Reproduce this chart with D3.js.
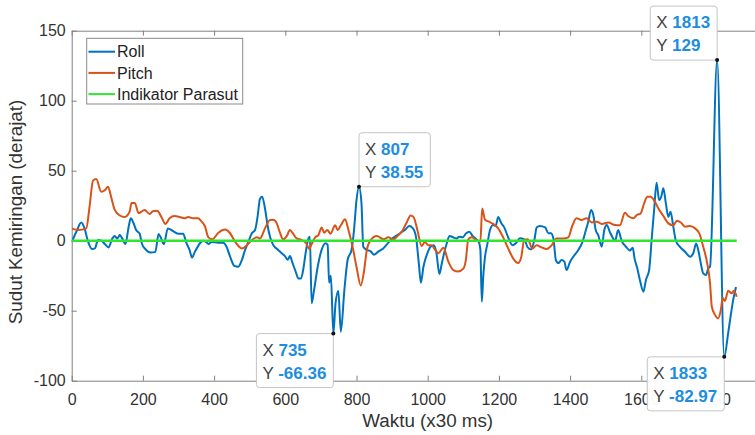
<!DOCTYPE html>
<html>
<head>
<meta charset="utf-8">
<script src="https://cdn.jsdelivr.net/npm/d3@7"></script>
<style>
  html, body { margin: 0; padding: 0; background: #fff; }
  svg { display: block; font-family: "Liberation Sans", Arial, Helvetica, sans-serif; }
</style>
</head>
<body>
<svg id="chart" width="755" height="435"></svg>
<script>
// Sample index (x30 ms) and tilt angle in degrees for each series
const rollX = [0,13,27,36,46,57,65,74,83,93,104,113,121,128,135,141,151,160,166,173,181,191,197,207,222,235,244,250,259,270,284,299,313,322,331,338,346,360,369,378,384,393,412,426,435,445,457,468,478,487,496,506,515,522,529,535,543,550,557,566,580,590,599,607,613,620,629,637,644,651,657,665,669,674,681,691,702,713,719,723,728,735,741,749,756,766,775,786,793,800,807,814,819,829,840,849,862,875,886,898,911,924,936,948,958,967,975,981,988,999,1008,1017,1024,1033,1039,1046,1053,1061,1072,1081,1089,1098,1108,1117,1126,1137,1145,1148,1152,1156,1161,1168,1175,1184,1191,1198,1206,1215,1226,1238,1249,1259,1271,1281,1290,1300,1306,1315,1330,1339,1346,1353,1360,1367,1376,1384,1390,1400,1409,1423,1434,1443,1451,1459,1465,1472,1479,1489,1496,1503,1512,1520,1526,1535,1545,1557,1568,1576,1581,1588,1596,1606,1613,1622,1629,1636,1643,1650,1656,1662,1669,1676,1682,1690,1697,1708,1723,1737,1746,1754,1761,1767,1774,1782,1788,1793,1813,1833,1844,1850,1858,1866];
const rollY = [-1,6.4,13,8.8,-0.7,-6,-5.5,0.5,0,-2.4,-4.8,1,3.3,1.5,4,2,-2.4,10,16,13,7.6,5,-2,-6,-8.5,-8,4.8,2.4,-2.4,8.8,7,5,5,-1.4,-6.6,-12,-8,-2,0,-1,-2.4,-1,-1.4,-1.4,-4.3,-11.4,-18,-18.6,-13.8,-6.6,-1,5.3,7.6,17,30,31.4,23,11.2,2.9,-3,-6.6,-9,-11,-13.6,-11,-15.7,-22,-27,-27,-19.7,-9,1.7,2.8,-44.7,-35,-18.6,-6.6,-1.9,-3,-30,-25,-66.36,-45,-36,-65,-35,-13.8,-6.6,7.6,29,38.55,26.7,-4.3,-6.6,-7.6,-10,-7.6,-5.5,-2.4,1,3.4,5.7,7.6,10.5,9,2.9,-16,-30,-18.6,-9,-4.3,-3.3,-7.9,-23.8,-17,-9,-2.4,3.4,2.4,1.6,2.9,2.4,5.3,6.4,3.4,1,-2,-6.6,-43.6,-25.7,-11.4,-1.9,7.6,11.2,10.5,17,12.9,9.5,2.4,-3.3,-1.4,1.7,1,-4.8,-6.2,1,9.5,10.5,9.5,5.3,5.3,1.7,-13.8,-16,-13.8,-15,-21,-15,-11.4,-6.6,-1.4,6.4,13.6,22,18.6,7.6,4,-4.3,7.6,11.2,6,2,-0.3,7.6,-0.3,-4.3,-7,-5,-12.6,-19,-28,-36.4,-28,-21,0.5,22,41.4,29,31.4,37.4,26.7,17,20.7,10,0,-4.3,-7.9,-11.4,-9,-2,-7.9,-16,-23.3,-24.5,-19.7,-18.6,129,-82.97,-66,-55.5,-42.4,-33];

const pitchX = [0,18,41,50,60,69,83,93,102,111,121,135,149,163,168,177,188,205,219,228,240,252,263,275,289,303,317,327,341,355,364,374,384,395,412,431,444,459,478,492,506,520,529,543,557,566,576,585,594,604,613,620,632,646,660,667,674,684,693,702,709,718,727,740,747,756,768,777,789,800,812,821,829,840,857,876,889,904,915,927,941,952,960,971,983,992,1002,1011,1021,1030,1044,1058,1072,1086,1100,1107,1114,1123,1137,1148,1153,1161,1172,1184,1198,1212,1226,1240,1254,1263,1271,1281,1294,1306,1320,1334,1348,1362,1381,1395,1406,1418,1432,1446,1461,1475,1489,1507,1526,1540,1554,1563,1578,1587,1598,1608,1617,1626,1638,1648,1662,1676,1690,1700,1711,1723,1737,1751,1763,1774,1785,1793,1798,1807,1816,1823,1829,1835,1844,1854,1860,1868];
const pitchY = [8.8,7.6,8.8,24,43,44,35,36,38.6,31,22,18,17,21,27,27,19.6,22,19,21,21.4,17,12,16,17.6,17,16,17,16,16,14,10.5,2.4,1,5.7,8,5.7,-0.7,-5.5,-3.3,0.5,2.4,1.6,8.8,14.8,15,12.4,5.7,1,3.3,7.6,5.7,1.6,0.5,-2.4,-6,-2.4,2.4,4,9.5,5.7,7.6,5,11,7.6,11,15.3,8,-4.3,-18.6,-32,-22,-6.6,0.5,3.4,1,2.4,1,3.3,6.4,13,18,17,7.6,-3.8,-1,-3.3,-3.3,-6.6,-9,-5,-15,-21,-22,-20,-14,1,2.4,0.5,-0.7,23,15,13.6,12,8.8,2.4,-5.5,-12.6,-16,-11.4,0.5,1,-5.5,-3.3,-4.8,-6,-3.3,1.6,1.6,2.4,10.5,16,14.8,16,13,13.6,12,13,11.2,11,20,17.6,16,18.3,19.5,26.7,31.4,31.4,28,23,17.6,12.4,11,14.3,13,10,10.5,8.8,5.3,-4.3,-16,-30,-47,-53,-55.5,-50,-41,-43,-35.7,-37.6,-35.7,-40];

const parasutX = [0, 1868];
const parasutY = [0, 0];

const seriesNames = ["Roll", "Pitch", "Indikator Parasut"];
const seriesColors = ["#0072BD", "#D95319", "#2ee62e"];

const xTicks = [0, 200, 400, 600, 800, 1000, 1200, 1400, 1600, 1800];
const yTicks = [-100, -50, 0, 50, 100, 150];

// Data tips placed on the Roll series
const tipX = [735, 807, 1813, 1833];
const tipCorner = ["top-right", "bottom-left", "bottom-right", "top-right"];

(function draw() {
  const svg = d3.select("#chart");
  svg.append("rect").attr("width", 755).attr("height", 435).attr("fill", "#fff");

  const pL = 71.7, pR = 783.7, pT = 30.7, pB = 380.7;
  const x = d3.scaleLinear().domain([0, 2000]).range([pL, pR]);
  const y = d3.scaleLinear().domain([-100, 150]).range([pB, pT]);

  const axisColor = "#808080";
  const textColor = "#333";
  const plain = d => String(d);

  svg.append("clipPath").attr("id", "plotclip")
    .append("rect").attr("x", pL).attr("y", pT)
    .attr("width", pR - pL).attr("height", pB - pT);

  // Axes with inward ticks and a top edge
  const gx = svg.append("g").attr("transform", `translate(0,${pB})`)
    .call(d3.axisBottom(x).tickValues(xTicks).tickFormat(plain)
      .tickSizeInner(-5).tickSizeOuter(0).tickPadding(13));
  const gxTop = svg.append("g").attr("transform", `translate(0,${pT})`)
    .call(d3.axisTop(x).tickValues(xTicks).tickSizeInner(-5).tickSizeOuter(0).tickFormat(""));
  const gy = svg.append("g").attr("transform", `translate(${pL},0)`)
    .call(d3.axisLeft(y).tickValues(yTicks).tickFormat(plain)
      .tickSizeInner(-5).tickSizeOuter(0).tickPadding(6));

  [gx, gxTop, gy].forEach(g => {
    g.select(".domain").attr("stroke", axisColor).attr("stroke-width", 1);
    g.selectAll(".tick line").attr("stroke", axisColor);
    g.selectAll(".tick text").attr("fill", textColor)
      .style("font-size", "16px").style("font-family", '"Liberation Sans", Arial, sans-serif');
  });

  // Axis titles
  svg.append("text")
    .attr("x", (pL + pR) / 2).attr("y", 427)
    .attr("text-anchor", "middle").attr("fill", textColor)
    .style("font-size", "18.8px")
    .text("Waktu (x30 ms)");
  svg.append("text")
    .attr("transform", `translate(22,212) rotate(-90)`)
    .attr("text-anchor", "middle").attr("fill", textColor)
    .style("font-size", "18.8px")
    .text("Sudut Kemiringan (derajat)");

  // Lines
  const plot = svg.append("g").attr("clip-path", "url(#plotclip)");
  const seriesData = [
    rollX.map((v, i) => [v, rollY[i]]),
    pitchX.map((v, i) => [v, pitchY[i]]),
    parasutX.map((v, i) => [v, parasutY[i]])
  ];
  const line = d3.line().x(d => x(d[0])).y(d => y(d[1])).curve(d3.curveMonotoneX);
  seriesData.forEach((data, i) => {
    plot.append("path")
      .datum(data)
      .attr("fill", "none")
      .attr("stroke", seriesColors[i])
      .attr("stroke-width", i === 2 ? 2.4 : 2)
      .attr("stroke-linejoin", "round")
      .attr("d", line);
  });

  // Legend
  const legend = svg.append("g");
  legend.append("rect")
    .attr("x", 86.7).attr("y", 38.3).attr("width", 156).attr("height", 65.7)
    .attr("fill", "#fff").attr("stroke", "#8a8a8a").attr("stroke-width", 1);
  seriesNames.forEach((name, i) => {
    const cy = 51.7 + i * 21.2;
    legend.append("line")
      .attr("x1", 88.5).attr("x2", 115).attr("y1", cy).attr("y2", cy)
      .attr("stroke", seriesColors[i]).attr("stroke-width", 2);
    legend.append("text")
      .attr("x", 117).attr("y", cy + 5.6)
      .attr("fill", "#222").style("font-size", "16px")
      .text(name);
  });

  // Data tips
  const tipLayer = svg.append("g");
  tipX.forEach((tx, i) => {
    const idx = rollX.indexOf(tx);
    const ty = rollY[idx];
    const px = x(tx), py = y(ty);
    const g = tipLayer.append("g");
    const box = g.append("rect").attr("rx", 3).attr("ry", 3)
      .attr("fill", "#fff").attr("fill-opacity", 0.97)
      .attr("stroke", "#c4c4c4").attr("stroke-width", 1);
    const rows = [["X", String(tx)], ["Y", String(ty)]];
    const texts = rows.map((r, k) => {
      const t = g.append("text").attr("x", 6).attr("y", 22 + k * 23)
        .style("font-size", "17px");
      t.append("tspan").attr("fill", "#444").text(r[0] + " ");
      t.append("tspan").attr("fill", "#1c8de0").attr("font-weight", "bold").text(r[1]);
      return t;
    });
    const w = d3.max(texts, t => t.node().getComputedTextLength()) + 13;
    const h = 54;
    const c = tipCorner[i];
    const bx = c.endsWith("right") ? px - w : px;
    const by = c.startsWith("top") ? py : py - h;
    box.attr("x", 0).attr("y", 0).attr("width", w).attr("height", h);
    g.attr("transform", `translate(${bx},${by})`);
    tipLayer.append("circle").attr("cx", px).attr("cy", py).attr("r", 2).attr("fill", "#111");
  });
})();
</script>
</body>
</html>
